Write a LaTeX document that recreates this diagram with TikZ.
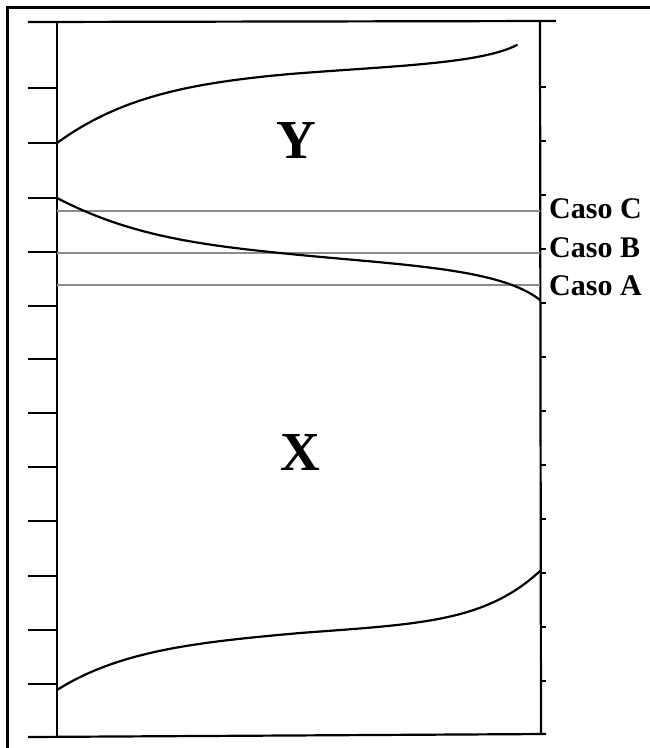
\documentclass[tikz,border=0pt]{standalone}
\usepackage{fontspec}
\setmainfont{Liberation Serif}
\begin{document}
\begin{tikzpicture}[x=1pt,y=-1pt,
  axis/.style={line width=2.2pt,black},
  tickmark/.style={line width=2.2pt,black},
  curve/.style={line width=2.2pt,black,line cap=round},
  caseline/.style={line width=1.8pt,black!45},
  caselabel/.style={anchor=west,inner sep=0pt,font=\fontsize{30}{30}\selectfont\bfseries},
  region/.style={inner sep=0pt,font=\fontsize{55}{55}\selectfont\bfseries}]
\useasboundingbox (0,0) rectangle (650,748);
% outer frame
\draw[line width=3pt] (7,760) -- (7,7) -- (660,7);
% axes
\draw[axis] (28,22) -- (556,21);
\draw[axis] (28,737) -- (546,734);
\draw[axis] (57,22) -- (57,737);
\draw[axis] (540,21) -- (541,734);
% left ticks
\foreach \y in {88,143,198,252,306,359,413,467,521,576,630,684}
  \draw[tickmark] (28,\y) -- (57,\y);
% right ticks
\foreach \y in {87,141,195,249,303,357,411,465,519,573,627,681}
  \draw[tickmark] (540,\y) -- (546,\y);
% case lines
\draw[caseline] (57,211) -- (540,211);
\draw[caseline] (57,253) -- (540,253);
\draw[caseline] (57,285) -- (540,285);
% curves
\draw[curve] (57,143) .. controls (120,97) and (190,83) .. (290,74)
             .. controls (390,66) and (480,64) .. (517,45);
\draw[curve] (57,198) .. controls (130,236) and (200,245) .. (290,254)
             .. controls (400,265) and (500,268) .. (540,300);
\draw[curve] (57,690) .. controls (120,650) and (200,642) .. (300,633)
             .. controls (420,624) and (485,622) .. (540,571);
% labels
\node[caselabel] (cc) at (549,209) {Caso C};
\node[caselabel] (cb) at (549,248) {Caso B};
\node[caselabel] (ca) at (549,286) {Caso A};
\node[region] (y) at (296,140) {Y};
\node[region] (x) at (300,452) {X};
\end{tikzpicture}
\end{document}
